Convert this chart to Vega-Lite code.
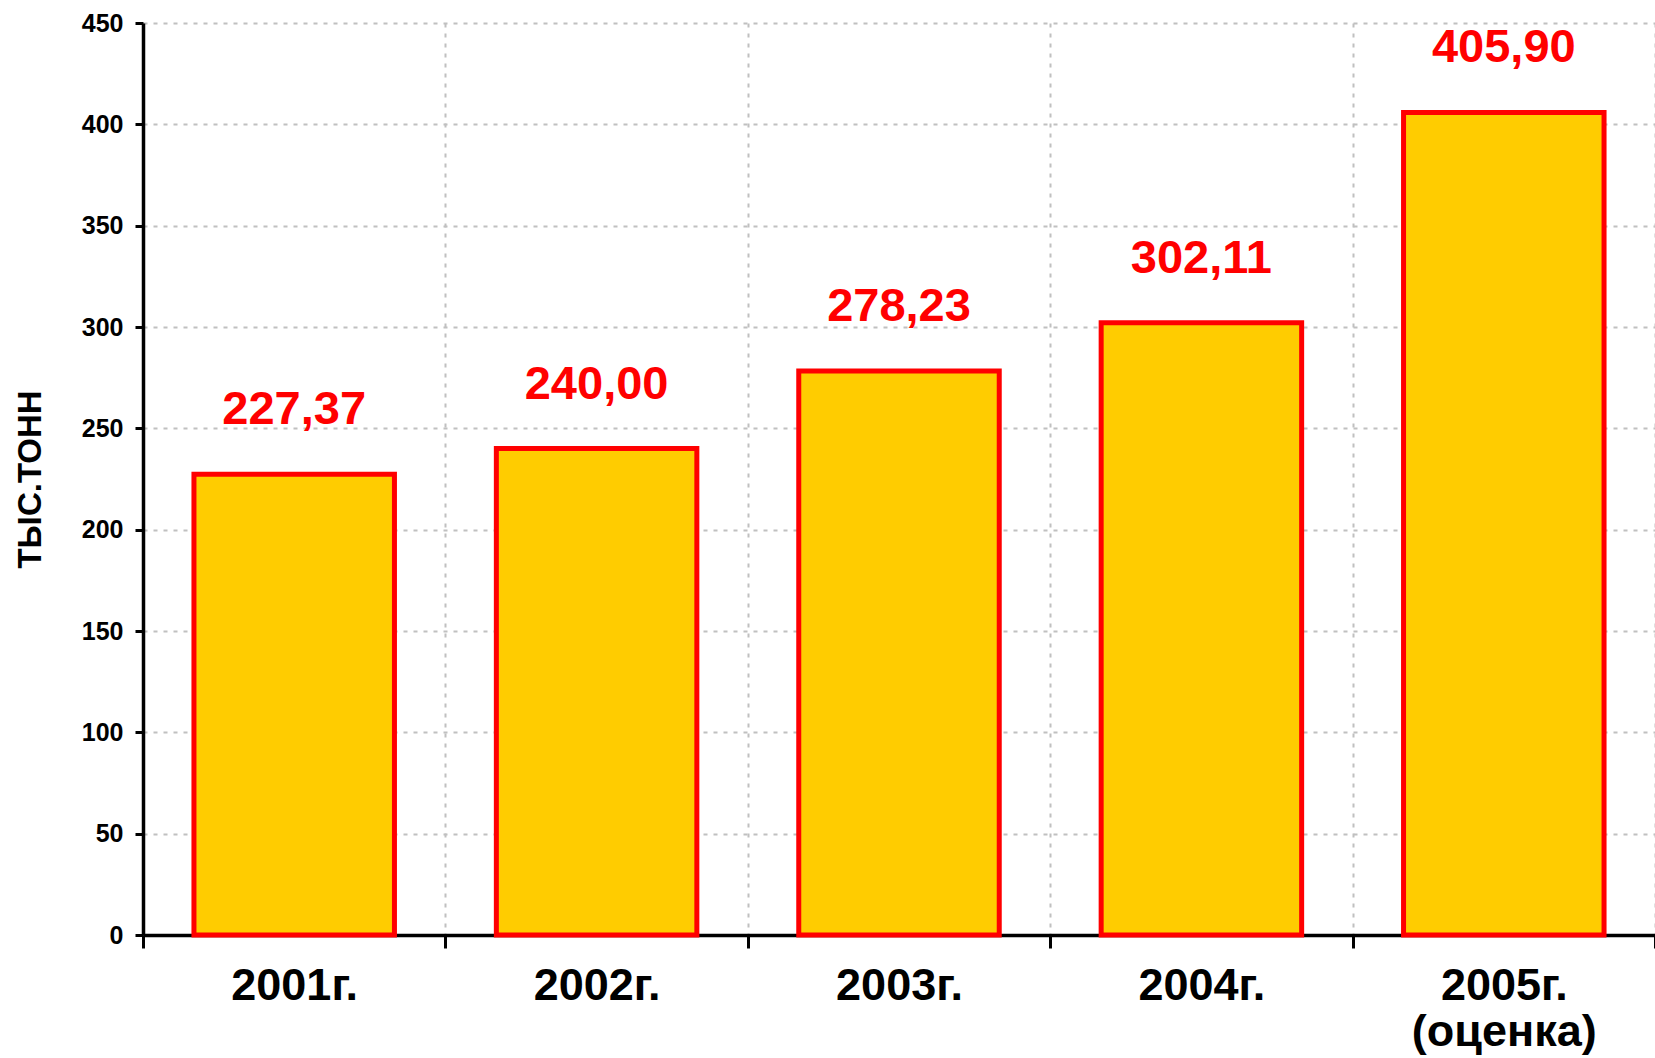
{
  "$schema": "https://vega.github.io/schema/vega-lite/v6.json",
  "width": 1512,
  "height": 912,
  "autosize": {"type": "none"},
  "padding": {"left": 143, "top": 23, "right": 0, "bottom": 123},
  "background": "white",
  "config": {
    "view": {"stroke": null},
    "font": "Liberation Sans"
  },
  "data": {
    "values": [
      {"year": "2001г.", "value": 227.37, "label": "227,37"},
      {"year": "2002г.", "value": 240.00, "label": "240,00"},
      {"year": "2003г.", "value": 278.23, "label": "278,23"},
      {"year": "2004г.", "value": 302.11, "label": "302,11"},
      {"year": "2005г. (оценка)", "value": 405.90, "label": "405,90"}
    ]
  },
  "encoding": {
    "x": {
      "field": "year",
      "type": "nominal",
      "sort": null,
      "scale": {"paddingInner": 0, "paddingOuter": 0},
      "axis": {
        "title": null,
        "labelAngle": 0,
        "labelExpr": "split(datum.label, ' ')",
        "labelFont": "Liberation Sans",
        "labelFontSize": 45,
        "labelFontWeight": "bold",
        "labelColor": "black",
        "labelLineHeight": 46,
        "labelPadding": 15,
        "labelLimit": 400,
        "tickBand": "extent",
        "tickSize": 13,
        "tickWidth": 3,
        "tickColor": "black",
        "domainColor": "black",
        "domainWidth": 3.5,
        "grid": true,
        "gridColor": "#c0c0c0",
        "gridWidth": 2,
        "gridDash": [4, 6]
      }
    },
    "y": {
      "field": "value",
      "type": "quantitative",
      "scale": {"domain": [0, 450], "nice": false},
      "axis": {
        "title": "ТЫС.ТОНН",
        "titleFont": "Liberation Sans",
        "titleFontSize": 33,
        "titleFontWeight": "bold",
        "titleColor": "black",
        "titlePadding": 34,
        "values": [0, 50, 100, 150, 200, 250, 300, 350, 400, 450],
        "labelFont": "Liberation Sans",
        "labelFontSize": 25,
        "labelFontWeight": "bold",
        "labelColor": "black",
        "labelPadding": 12,
        "tickSize": 8,
        "tickWidth": 3,
        "tickColor": "black",
        "domainColor": "black",
        "domainWidth": 3.5,
        "grid": true,
        "gridColor": "#c0c0c0",
        "gridWidth": 2,
        "gridDash": [4, 6]
      }
    }
  },
  "layer": [
    {
      "mark": {"type": "bar", "width": {"band": 0.663}, "fill": "#FFCC00", "stroke": "#FF0000", "strokeWidth": 5}
    },
    {
      "mark": {
        "type": "text",
        "baseline": "alphabetic",
        "align": "center",
        "dy": -50,
        "fontSize": 47,
        "fontWeight": "bold",
        "font": "Liberation Sans",
        "color": "#FF0000"
      },
      "encoding": {"text": {"field": "label"}}
    }
  ]
}
